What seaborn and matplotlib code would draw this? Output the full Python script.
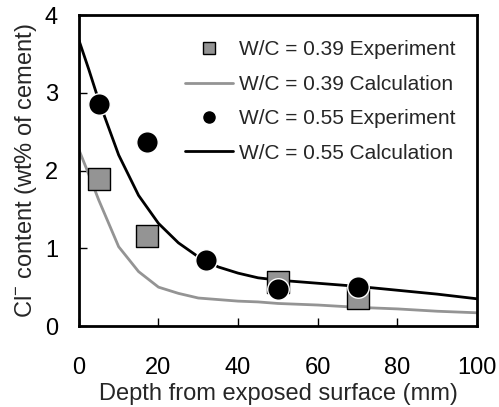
"""
Chloride profile: experiment vs calculation for two W/C ratios
"""
import matplotlib
matplotlib.use('Agg')
import matplotlib.pyplot as plt
import seaborn as sns
import pandas as pd
from matplotlib.lines import Line2D

# Experimental points
exp39_depth = [5, 17, 50, 70]
exp39_cl = [1.89, 1.16, 0.57, 0.36]
exp55_depth = [5, 17, 32, 50, 70]
exp55_cl = [2.86, 2.37, 0.85, 0.48, 0.50]

# Calculated profiles
calc_depth = [0, 2.5, 5, 10, 15, 20, 25, 30, 35, 40, 45, 50, 60, 70, 80, 90, 100]
calc39_cl = [2.27, 1.95, 1.62, 1.02, 0.70, 0.50, 0.42, 0.36, 0.34, 0.32, 0.31, 0.29, 0.27, 0.24, 0.22, 0.19, 0.17]
calc55_cl = [3.68, 3.30, 2.90, 2.20, 1.68, 1.32, 1.07, 0.89, 0.76, 0.68, 0.62, 0.59, 0.55, 0.51, 0.46, 0.41, 0.35]

labels = ['W/C = 0.39 Experiment', 'W/C = 0.39 Calculation',
          'W/C = 0.55 Experiment', 'W/C = 0.55 Calculation']

sns.set_style('ticks')
plt.rcParams['font.family'] = ['Liberation Sans', 'DejaVu Sans']
plt.rcParams['mathtext.fontset'] = 'custom'
plt.rcParams['mathtext.rm'] = 'Liberation Sans'
plt.rcParams['mathtext.it'] = 'Liberation Sans'

gray = '#949494'

fig = plt.figure(figsize=(4.99, 4.07), dpi=100)
ax = fig.add_axes([0.158, 0.199, 0.798, 0.764])

calc = pd.DataFrame({'depth': calc_depth, 'c39': calc39_cl, 'c55': calc55_cl})
sns.lineplot(data=calc, x='depth', y='c39', color=gray, linewidth=2, ax=ax)
sns.lineplot(data=calc, x='depth', y='c55', color='black', linewidth=2, ax=ax)

sns.scatterplot(x=exp39_depth, y=exp39_cl, marker='s', s=250, color=gray,
                edgecolor='black', linewidth=1, ax=ax, zorder=3)
sns.scatterplot(x=exp55_depth, y=exp55_cl, marker='o', s=240, color='black',
                edgecolor='white', linewidth=1, ax=ax, zorder=4)

ax.set_xlim(0, 100)
ax.set_ylim(0, 4)
ax.set_xticks([0, 20, 40, 60, 80, 100])
ax.set_yticks([0, 1, 2, 3, 4])
ax.tick_params(direction='in', length=6, width=1, labelsize=17, colors='black')
ax.tick_params(axis='x', pad=22)
ax.tick_params(axis='y', pad=15)
for sp in ax.spines.values():
    sp.set_linewidth(2)
    sp.set_color('black')
    sp.set_visible(True)

ax.set_xlabel('Depth from exposed surface (mm)', fontsize=17, labelpad=3)
ax.set_ylabel('Cl$^{-}$ content (wt% of cement)', fontsize=17, labelpad=4)

handles = [
    Line2D([], [], marker='s', linestyle='none', markersize=9,
           markerfacecolor=gray, markeredgecolor='black'),
    Line2D([], [], color=gray, linewidth=2),
    Line2D([], [], marker='o', linestyle='none', markersize=8, color='black'),
    Line2D([], [], color='black', linewidth=2),
]
ax.legend(handles, labels, loc='upper left', bbox_to_anchor=(0.245, 0.945),
          frameon=False, fontsize=15, handlelength=2.3, handletextpad=0.29,
          labelspacing=0.74, borderaxespad=0.0)

fig.savefig('out.png', dpi=100)
